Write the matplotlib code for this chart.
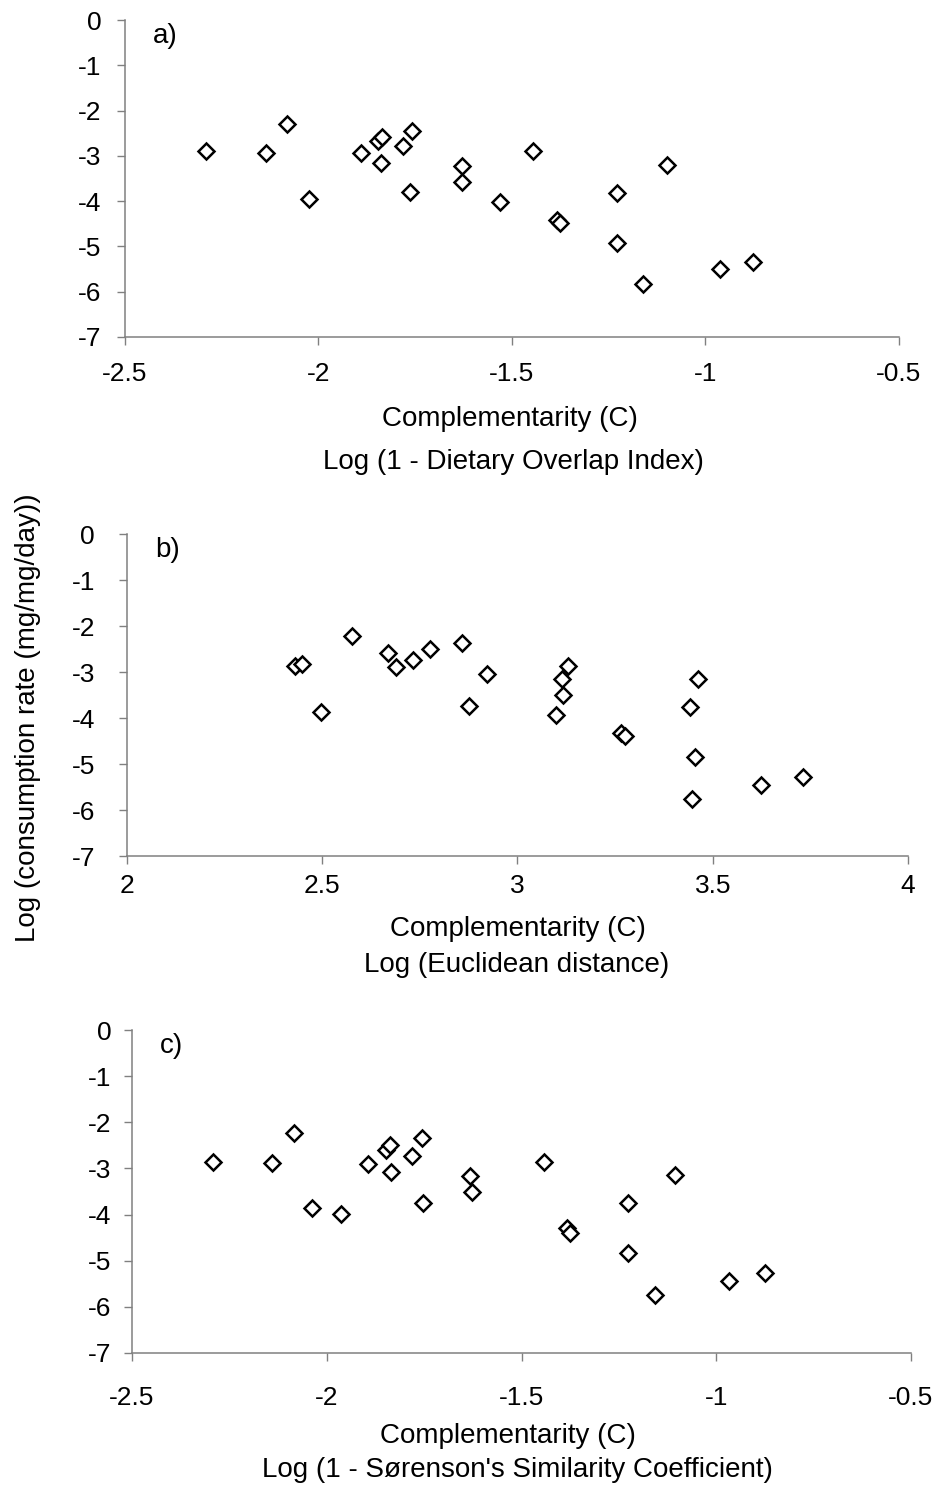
import matplotlib
matplotlib.use("Agg")
import matplotlib.pyplot as plt
from matplotlib.ticker import FuncFormatter, MultipleLocator

plt.rcParams['font.family'] = ['Liberation Sans', 'DejaVu Sans']
plt.rcParams['axes.unicode_minus'] = False

# Log consumption rate (mg/mg/day) against three complementarity measures
overlap_x = [-2.291, -2.136, -2.082, -2.024, -1.891, -1.845, -1.837, -1.839,
             -1.781, -1.759, -1.764, -1.630, -1.630, -1.531, -1.445, -1.385,
             -1.376, -1.229, -1.100, -1.228, -1.161, -0.963, -0.877]
overlap_y = [-2.90, -2.93, -2.30, -3.95, -2.94, -2.68, -2.58, -3.16, -2.78,
             -2.45, -3.80, -3.22, -3.58, -4.02, -2.90, -4.42, -4.48, -3.81,
             -3.21, -4.92, -5.83, -5.50, -5.34]

euclid_x = [2.430, 2.447, 2.498, 2.577, 2.669, 2.690, 2.733, 2.776, 2.858,
            2.876, 2.921, 3.130, 3.113, 3.117, 3.098, 3.266, 3.276, 3.463,
            3.441, 3.454, 3.448, 3.623, 3.731]
euclid_y = [-2.87, -2.83, -3.86, -2.21, -2.59, -2.90, -2.74, -2.51, -2.36,
            -3.74, -3.04, -2.86, -3.16, -3.50, -3.93, -4.32, -4.39, -3.16,
            -3.75, -4.84, -5.77, -5.46, -5.28]

sorenson_x = [-2.291, -2.140, -2.084, -2.037, -1.964, -1.893, -1.848, -1.838,
              -1.836, -1.780, -1.756, -1.754, -1.632, -1.628, -1.441, -1.384,
              -1.375, -1.227, -1.106, -1.226, -1.157, -0.966, -0.875]
sorenson_y = [-2.87, -2.89, -2.23, -3.86, -3.98, -2.90, -2.60, -2.49, -3.07,
              -2.72, -2.34, -3.74, -3.16, -3.52, -2.85, -4.29, -4.39, -3.75,
              -3.14, -4.83, -5.74, -5.45, -5.27]

panel_tags = ["a)", "b)", "c)"]
x_limits = [(-2.5, -0.5), (2, 4), (-2.5, -0.5)]
x_titles = [
    "Log (1 - Dietary Overlap Index)",
    "Log (Euclidean distance)",
    "Log (1 - S\u00f8renson's Similarity Coefficient)",
]
y_title = "Log (consumption rate (mg/mg/day))"

W, H = 937, 1494
fig = plt.figure(figsize=(W / 100, H / 100), dpi=100)
fig.patch.set_facecolor("white")

# axes boxes in pixels: left, top, right, bottom
boxes = [(125, 20, 899, 337), (127, 534, 908, 856), (132, 1030, 911, 1353)]
xpads = [12, 7, 18]
ypads = [11, 17, 9]
label_rows = [(419, 462), (929, 965), (1436, 1470)]
label_xc = [(510, 513), (518, 517), (508, 517)]

series = [(overlap_x, overlap_y), (euclid_x, euclid_y), (sorenson_x, sorenson_y)]
grey = "#808080"
fmt = FuncFormatter(lambda v, p: "%g" % v)

for i, (l, t, r, b) in enumerate(boxes):
    ax = fig.add_axes([l / W, 1 - b / H, (r - l) / W, (b - t) / H])
    xs, ys = series[i]
    ax.plot(xs, ys, linestyle="none", marker="D", markersize=8,
            markerfacecolor="white", markeredgecolor="black",
            markeredgewidth=1.8, clip_on=False)
    ax.set_xlim(*x_limits[i])
    ax.set_ylim(-7, 0)
    ax.xaxis.set_major_locator(MultipleLocator(0.5))
    ax.yaxis.set_major_locator(MultipleLocator(1))
    ax.xaxis.set_major_formatter(fmt)
    ax.yaxis.set_major_formatter(fmt)
    for s in ("top", "right"):
        ax.spines[s].set_visible(False)
    for s in ("left", "bottom"):
        ax.spines[s].set_color(grey)
        ax.spines[s].set_linewidth(1.1)
    ax.tick_params(axis="x", direction="out", length=6, width=1, color=grey,
                   labelsize=19, pad=xpads[i])
    ax.tick_params(axis="y", direction="out", length=6, width=1, color=grey,
                   labelsize=19, pad=ypads[i])
    ax.set_facecolor("white")
    ax.text(0.036, 0.99, panel_tags[i], transform=ax.transAxes,
            fontsize=20, ha="left", va="top")

    (y1, y2), (x1, x2) = label_rows[i], label_xc[i]
    fig.text(x1 / W, 1 - y1 / H, "Complementarity (C)", fontsize=20,
             ha="center", va="center")
    fig.text(x2 / W, 1 - y2 / H, x_titles[i], fontsize=20,
             ha="center", va="center")

fig.text(28 / W, 1 - 718 / H, y_title, rotation=90, fontsize=20,
         ha="center", va="center")

fig.savefig("out.png", dpi=100, facecolor="white")
